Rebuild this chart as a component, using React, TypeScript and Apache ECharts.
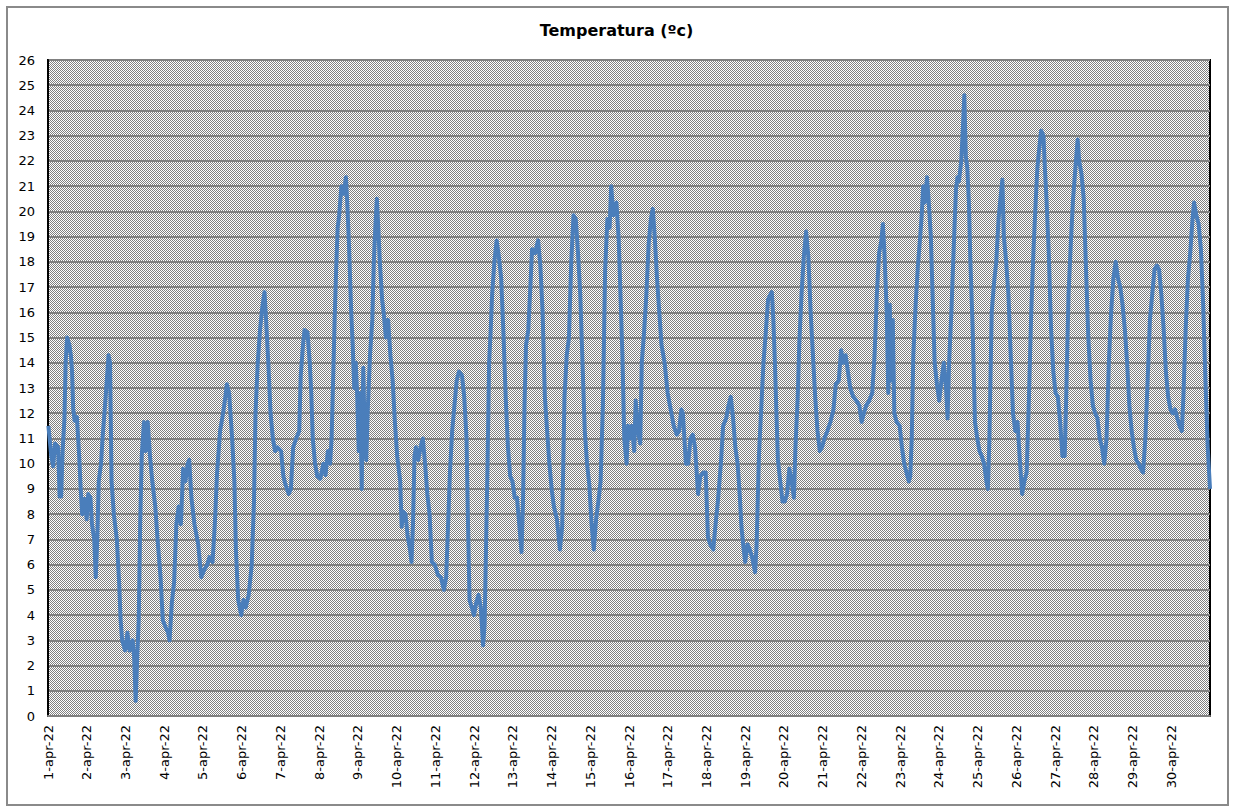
import React, { useEffect, useRef } from "react";
import * as echarts from "echarts";

const dayLabels = [
  "1-apr-22", "2-apr-22", "3-apr-22", "4-apr-22", "5-apr-22", "6-apr-22", "7-apr-22", "8-apr-22",
  "9-apr-22", "10-apr-22", "11-apr-22", "12-apr-22", "13-apr-22", "14-apr-22", "15-apr-22",
  "16-apr-22", "17-apr-22", "18-apr-22", "19-apr-22", "20-apr-22", "21-apr-22", "22-apr-22",
  "23-apr-22", "24-apr-22", "25-apr-22", "26-apr-22", "27-apr-22", "28-apr-22", "29-apr-22", "30-apr-22",
];

// time in days since 1-apr-22 00:00
const days = [
  0.01, 0.085, 0.133, 0.182, 0.26, 0.30, 0.34, 0.377, 0.425, 0.455, 0.493, 0.552, 0.59, 0.62, 0.65, 0.688, 0.746, 0.805, 0.844, 0.882,
  0.94, 0.999, 1.038, 1.096, 1.135, 1.194, 1.233, 1.272, 1.31, 1.369, 1.408, 1.447, 1.505, 1.563, 1.602, 1.641, 1.70, 1.777, 1.836, 1.875,
  1.914, 1.991, 2.05, 2.108, 2.186, 2.225, 2.264, 2.303, 2.342, 2.38, 2.42, 2.477, 2.517, 2.575, 2.633, 2.692, 2.77, 2.828, 2.906, 2.964,
  3.042, 3.10, 3.139, 3.198, 3.256, 3.314, 3.373, 3.431, 3.489, 3.548, 3.606, 3.645, 3.703, 3.781, 3.878, 3.956, 4.034, 4.112, 4.17, 4.248,
  4.307, 4.365, 4.443, 4.52, 4.579, 4.618, 4.676, 4.754, 4.812, 4.851, 4.91, 4.987, 5.046, 5.104, 5.182, 5.26, 5.318, 5.357, 5.415, 5.474,
  5.532, 5.59, 5.63, 5.688, 5.746, 5.805, 5.863, 5.921, 6.018, 6.077, 6.135, 6.213, 6.271, 6.33, 6.408, 6.486, 6.525, 6.583, 6.622, 6.70,
  6.758, 6.797, 6.836, 6.894, 6.953, 7.03, 7.108, 7.166, 7.225, 7.283, 7.322, 7.361, 7.40, 7.439, 7.478, 7.517, 7.575, 7.633, 7.692, 7.73,
  7.77, 7.828, 7.867, 7.906, 7.945, 7.984, 8.022, 8.061, 8.10, 8.139, 8.178, 8.217, 8.256, 8.314, 8.373, 8.412, 8.45, 8.49, 8.528, 8.567,
  8.626, 8.665, 8.723, 8.781, 8.84, 8.898, 8.956, 9.015, 9.093, 9.131, 9.17, 9.229, 9.287, 9.346, 9.385, 9.423, 9.462, 9.50, 9.56, 9.618,
  9.677, 9.735, 9.793, 9.851, 9.91, 9.987, 10.065, 10.143, 10.221, 10.28, 10.318, 10.377, 10.435, 10.493, 10.552, 10.61, 10.688, 10.746, 10.805, 10.844,
  10.883, 10.941, 11.0, 11.057, 11.116, 11.174, 11.233, 11.272, 11.31, 11.35, 11.388, 11.427, 11.466, 11.524, 11.583, 11.641, 11.70, 11.758, 11.816, 11.875,
  11.933, 11.991, 12.05, 12.108, 12.166, 12.225, 12.264, 12.302, 12.341, 12.40, 12.458, 12.497, 12.575, 12.653, 12.711, 12.77, 12.828, 12.886, 12.944, 13.003,
  13.061, 13.139, 13.217, 13.275, 13.334, 13.392, 13.45, 13.509, 13.567, 13.626, 13.684, 13.742, 13.80, 13.858, 13.917, 13.976, 14.034, 14.092, 14.151, 14.209,
  14.267, 14.326, 14.384, 14.442, 14.50, 14.54, 14.598, 14.676, 14.735,
  14.83, 14.878, 14.937, 14.976, 15.016, 15.075, 15.134, 15.173, 15.232, 15.29, 15.33, 15.389, 15.448, 15.507, 15.566, 15.615, 15.664, 15.723, 15.782, 15.84,
  15.919, 15.998, 16.076, 16.155, 16.233, 16.292, 16.351, 16.39, 16.43, 16.469, 16.528, 16.587, 16.646, 16.705, 16.783, 16.842, 16.92, 16.98, 17.038, 17.097,
  17.176, 17.235, 17.294, 17.372, 17.431, 17.51, 17.569, 17.628, 17.687, 17.745, 17.804, 17.863, 17.903, 17.961, 18.0, 18.06, 18.118, 18.177, 18.256, 18.295,
  18.354, 18.413, 18.472, 18.531, 18.59, 18.649, 18.688, 18.727, 18.767, 18.806, 18.845, 18.904, 18.963, 19.022, 19.081, 19.14, 19.199, 19.258, 19.297, 19.356,
  19.395, 19.454, 19.513, 19.572, 19.631, 19.69, 19.749, 19.807, 19.866, 19.925, 19.984, 20.043, 20.122, 20.2, 20.279, 20.338, 20.416, 20.475, 20.534, 20.593,
  20.652, 20.711, 20.79, 20.868, 20.947, 21.006, 21.064, 21.123, 21.202, 21.28, 21.34, 21.398, 21.457, 21.516, 21.555, 21.595, 21.654, 21.693, 21.732, 21.771,
  21.81, 21.85, 21.909, 21.987, 22.046, 22.105, 22.164, 22.223, 22.262, 22.30, 22.34, 22.4, 22.459, 22.518, 22.557, 22.596, 22.635, 22.694, 22.734, 22.793,
  22.832, 22.891, 22.95, 23.009, 23.068, 23.127, 23.185, 23.225, 23.264, 23.323, 23.382, 23.441, 23.48, 23.519, 23.578, 23.617, 23.657, 23.696, 23.735, 23.775,
  23.814, 23.873, 23.932, 23.991, 24.05, 24.108, 24.167, 24.226, 24.266, 24.305, 24.364, 24.423, 24.482, 24.541, 24.58, 24.639, 24.678, 24.737, 24.796, 24.855,
  24.914, 24.973, 25.031, 25.09, 25.15, 25.208, 25.267, 25.326, 25.385, 25.444, 25.503, 25.542, 25.581, 25.64, 25.7, 25.738, 25.778, 25.837, 25.896, 25.955,
  26.013, 26.072, 26.131, 26.19, 26.249, 26.288, 26.347, 26.406, 26.465, 26.524, 26.583, 26.622, 26.681, 26.74, 26.799, 26.858, 26.917, 26.976, 27.035, 27.094,
  27.153, 27.211, 27.27, 27.329, 27.388, 27.447, 27.506, 27.565, 27.624, 27.683, 27.742, 27.8, 27.86, 27.918, 27.977, 28.036, 28.095, 28.154, 28.213, 28.272,
  28.331, 28.39, 28.449, 28.508, 28.567, 28.626, 28.685, 28.744, 28.803, 28.861, 28.92, 28.979, 29.038, 29.097, 29.156, 29.215, 29.274, 29.313, 29.372, 29.431,
  29.49, 29.549, 29.588, 29.647, 29.706, 29.765, 29.824, 29.882, 29.941, 30.0,
];

// temperature (ºC)
const temps = [
  11.5, 10.3, 9.9, 10.8, 10.65, 8.7, 8.7, 10.5, 11.8, 14.0, 15.0, 14.7, 14.3, 13.7, 12.2, 11.7, 11.85, 10.3, 9.0, 8.0,
  8.6, 7.8, 8.8, 8.65, 7.6, 7.0, 5.5, 7.0, 9.3, 10.0, 11.0, 11.8, 13.0, 14.3, 14.0, 9.3, 8.0, 7.0, 5.3, 3.8,
  3.0, 2.6, 3.3, 2.6, 3.0, 2.3, 0.6, 2.3, 3.8, 7.6, 10.3, 11.65, 10.5, 11.65, 10.3, 9.3, 8.3, 7.0, 5.5, 3.8,
  3.5, 3.3, 3.0, 4.5, 5.3, 7.6, 8.3, 7.6, 9.8, 9.3, 10.0, 10.15, 8.65, 7.6, 6.8, 5.5, 5.8, 6.0, 6.3, 6.1,
  7.6, 9.65, 11.3, 12.0, 12.65, 13.15, 12.8, 11.0, 9.3, 6.6, 4.6, 4.0, 4.6, 4.3, 4.8, 6.0, 8.5, 12.0, 14.0, 15.3,
  16.2, 16.8, 15.7, 14.0, 12.0, 11.0, 10.5, 10.65, 10.5, 9.5, 9.15, 8.8, 9.0, 10.65, 11.0, 11.3, 13.5, 14.7, 15.3, 15.2,
  14.0, 12.8, 11.0, 10.0, 9.5, 9.4, 10.0, 9.55, 10.5, 10.0, 11.0, 13.3, 15.7, 17.7, 19.35, 19.85, 21.0, 20.7, 21.35, 20.2,
  18.7, 16.0, 14.7, 13.0, 14.0, 12.65, 10.5, 12.8, 9.0, 13.8, 11.0, 10.15, 12.15, 14.3, 15.7, 18.0, 19.35, 20.5, 19.35, 18.0,
  16.5, 16.0, 15.0, 15.7, 14.3, 13.3, 11.65, 10.3, 9.3, 7.5, 8.1, 8.0, 7.1, 6.6, 6.1, 7.6, 10.3, 10.65, 10.15, 10.65,
  11.0, 10.0, 8.8, 8.0, 6.1, 6.0, 5.6, 5.5, 5.0, 5.5, 7.1, 9.65, 11.3, 12.3, 13.3, 13.65, 13.5, 12.65, 11.0, 7.6,
  4.6, 4.3, 4.0, 4.5, 4.8, 4.3, 2.8, 3.6, 6.8, 10.15, 14.0, 15.2, 16.7, 18.0, 18.85, 18.2, 17.35, 15.2, 12.65, 10.65,
  9.5, 9.3, 8.65, 8.65, 7.6, 6.5, 8.5, 12.3, 14.7, 15.3, 17.15, 18.5, 18.35, 18.85, 17.85, 16.0, 12.65, 11.3, 10.0, 9.0,
  8.3, 7.8, 6.6, 7.5, 12.65, 14.3, 15.0, 18.0, 19.85, 19.7, 18.35, 16.7, 14.0, 11.3, 10.0, 9.15, 7.6, 6.6, 7.8, 8.5,
  9.3, 12.3, 17.7, 19.7, 19.35, 21.0, 19.85, 20.35, 18.85,
  14.3, 11.0, 10.0, 11.5, 11.0, 11.5, 10.5, 12.5, 11.3, 10.8, 14.0, 15.2, 16.7, 18.7, 19.7, 20.1, 19.0, 17.35, 16.0, 14.7,
  14.0, 12.8, 12.15, 11.5, 11.15, 11.3, 12.15, 12.0, 11.0, 10.0, 10.0, 11.0, 11.15, 10.65, 8.8, 9.5, 9.65, 9.65, 7.1, 6.8,
  6.6, 7.6, 8.5, 10.0, 11.5, 11.8, 12.3, 12.65, 11.8, 10.65, 10.0, 8.65, 7.5, 6.6, 6.1, 6.8, 6.6, 6.3, 5.7, 6.8,
  10.3, 12.15, 14.0, 15.2, 16.5, 16.7, 16.8, 15.7, 14.0, 12.0, 10.15, 9.3, 8.5, 8.5, 8.8, 9.8, 9.3, 8.65, 10.65, 12.65,
  14.7, 16.7, 18.2, 19.2, 18.2, 16.0, 14.3, 12.65, 11.3, 10.5, 10.65, 11.0, 11.3, 11.65, 12.15, 13.15, 13.3, 14.5, 14.0, 14.3,
  13.65, 13.0, 12.65, 12.5, 12.3, 11.65, 12.0, 12.3, 12.5, 12.8, 14.3, 16.7, 18.35, 18.85, 19.5, 18.35, 16.0, 12.8, 16.3, 13.3,
  15.7, 12.0, 11.65, 11.5, 10.65, 10.0, 9.65, 9.3, 9.5, 11.0, 14.3, 16.3, 17.85, 19.0, 19.85, 21.0, 20.35, 21.35, 20.5, 19.0,
  17.0, 14.0, 13.15, 12.5, 13.3, 14.0, 13.0, 11.8, 14.0, 16.0, 18.5, 20.85, 21.35, 21.2, 22.0, 23.2, 24.6, 22.2, 21.7, 20.35,
  18.0, 15.35, 11.65, 11.0, 10.5, 10.3, 10.0, 9.3, 9.0, 11.0, 16.0, 17.15, 18.0, 19.7, 20.35, 21.25, 19.0, 18.0, 16.7, 14.3,
  12.0, 11.3, 11.65, 10.15, 8.8, 9.3, 9.65, 12.65, 16.0, 18.5, 20.5, 21.7, 22.35, 23.2, 23.0, 21.7, 20.5, 18.35, 15.35, 13.65,
  12.8, 12.65, 11.65, 10.3, 10.3, 12.65, 16.7, 18.7, 20.5, 21.7, 22.85, 22.0, 21.5, 20.5, 17.7, 15.0, 13.3, 12.3, 12.0, 11.8,
  11.0, 10.65, 10.0, 11.0, 14.0, 16.0, 17.35, 18.0, 17.35, 17.0, 16.3, 15.35, 14.0, 12.3, 11.3, 10.65, 10.15, 10.0, 9.8, 9.65,
  11.0, 13.3, 15.7, 16.7, 17.7, 17.85, 17.7, 16.7, 15.35, 13.65, 12.65, 12.15, 12.0, 12.15, 11.8, 11.5, 11.3, 12.65, 15.35, 17.35,
  18.35, 19.7, 20.35, 19.85, 19.5, 18.5, 16.3, 13.3, 10.65, 9.0,
];

const PLOT = { left: 48, top: 60, right: 1210, bottom: 716 };

function checkerUrl(w: number, h: number): string {
  const c = document.createElement("canvas");
  c.width = w;
  c.height = h;
  const ctx = c.getContext("2d");
  if (!ctx) return "";
  const img = ctx.createImageData(w, h);
  for (let y = 0; y < h; y++) {
    for (let x = 0; x < w; x++) {
      const i = (y * w + x) * 4;
      const v = (x + y) % 2 === 0 ? 128 : 255;
      img.data[i] = v;
      img.data[i + 1] = v;
      img.data[i + 2] = v;
      img.data[i + 3] = 255;
    }
  }
  ctx.putImageData(img, 0, 0);
  return c.toDataURL("image/png");
}

export default function App() {
  const ref = useRef<HTMLDivElement>(null);

  useEffect(() => {
    if (!ref.current) return;
    const chart = echarts.init(ref.current, undefined, { renderer: "svg" });
    const w = PLOT.right - PLOT.left;
    const h = PLOT.bottom - PLOT.top;
    const url = checkerUrl(w, h);

    const data = days.map((d, i) => [d, temps[i]]);

    chart.setOption({
      animation: false,
      backgroundColor: "#ffffff",
      title: {
        text: "Temperatura (ºc)",
        left: "center",
        top: 17,
        textStyle: { fontFamily: "DejaVu Sans", fontSize: 16, fontWeight: "bold", color: "#000" },
      },
      graphic: [
        {
          type: "image",
          z: -10,
          silent: true,
          style: { image: url, x: PLOT.left, y: PLOT.top, width: w, height: h },
        },
        {
          type: "rect",
          silent: true,
          shape: { x: 7, y: 7, width: 1221, height: 798 },
          style: { fill: "none", stroke: "#8a8a8a", lineWidth: 2 },
        },
      ],
      grid: {
        left: 48,
        right: 23,
        top: 60,
        bottom: 94,
        show: true,
        borderColor: "#000",
        borderWidth: 2,
        backgroundColor: "transparent",
      },
      xAxis: {
        type: "value",
        min: 0,
        max: 30,
        interval: 1,
        axisLine: { show: true, onZero: false, lineStyle: { color: "#808080", width: 2 } },
        axisTick: { show: false },
        splitLine: { show: false },
        axisLabel: {
          rotate: 90,
          margin: 9,
          fontFamily: "DejaVu Sans",
          fontSize: 13,
          color: "#000",
          showMaxLabel: false,
          formatter: (v: number) => dayLabels[Math.round(v)] ?? "",
        },
      },
      yAxis: {
        type: "value",
        min: 0,
        max: 26,
        interval: 1,
        axisLine: { show: true, lineStyle: { color: "#000", width: 2 } },
        axisTick: { show: false },
        splitLine: { show: true, lineStyle: { color: "#808080", width: 2 } },
        axisLabel: { fontFamily: "DejaVu Sans", fontSize: 13, color: "#000", margin: 13 },
      },
      series: [
        {
          type: "line",
          data,
          showSymbol: false,
          symbol: "none",
          lineStyle: { color: "#4A7EBB", width: 4, join: "round" },
          itemStyle: { color: "#4A7EBB" },
          clip: true,
        },
      ],
    });

    return () => chart.dispose();
  }, []);

  return (
    <div
      ref={ref}
      style={{ position: "absolute", left: 0, top: 0, width: 1233, height: 810 }}
    />
  );
}
